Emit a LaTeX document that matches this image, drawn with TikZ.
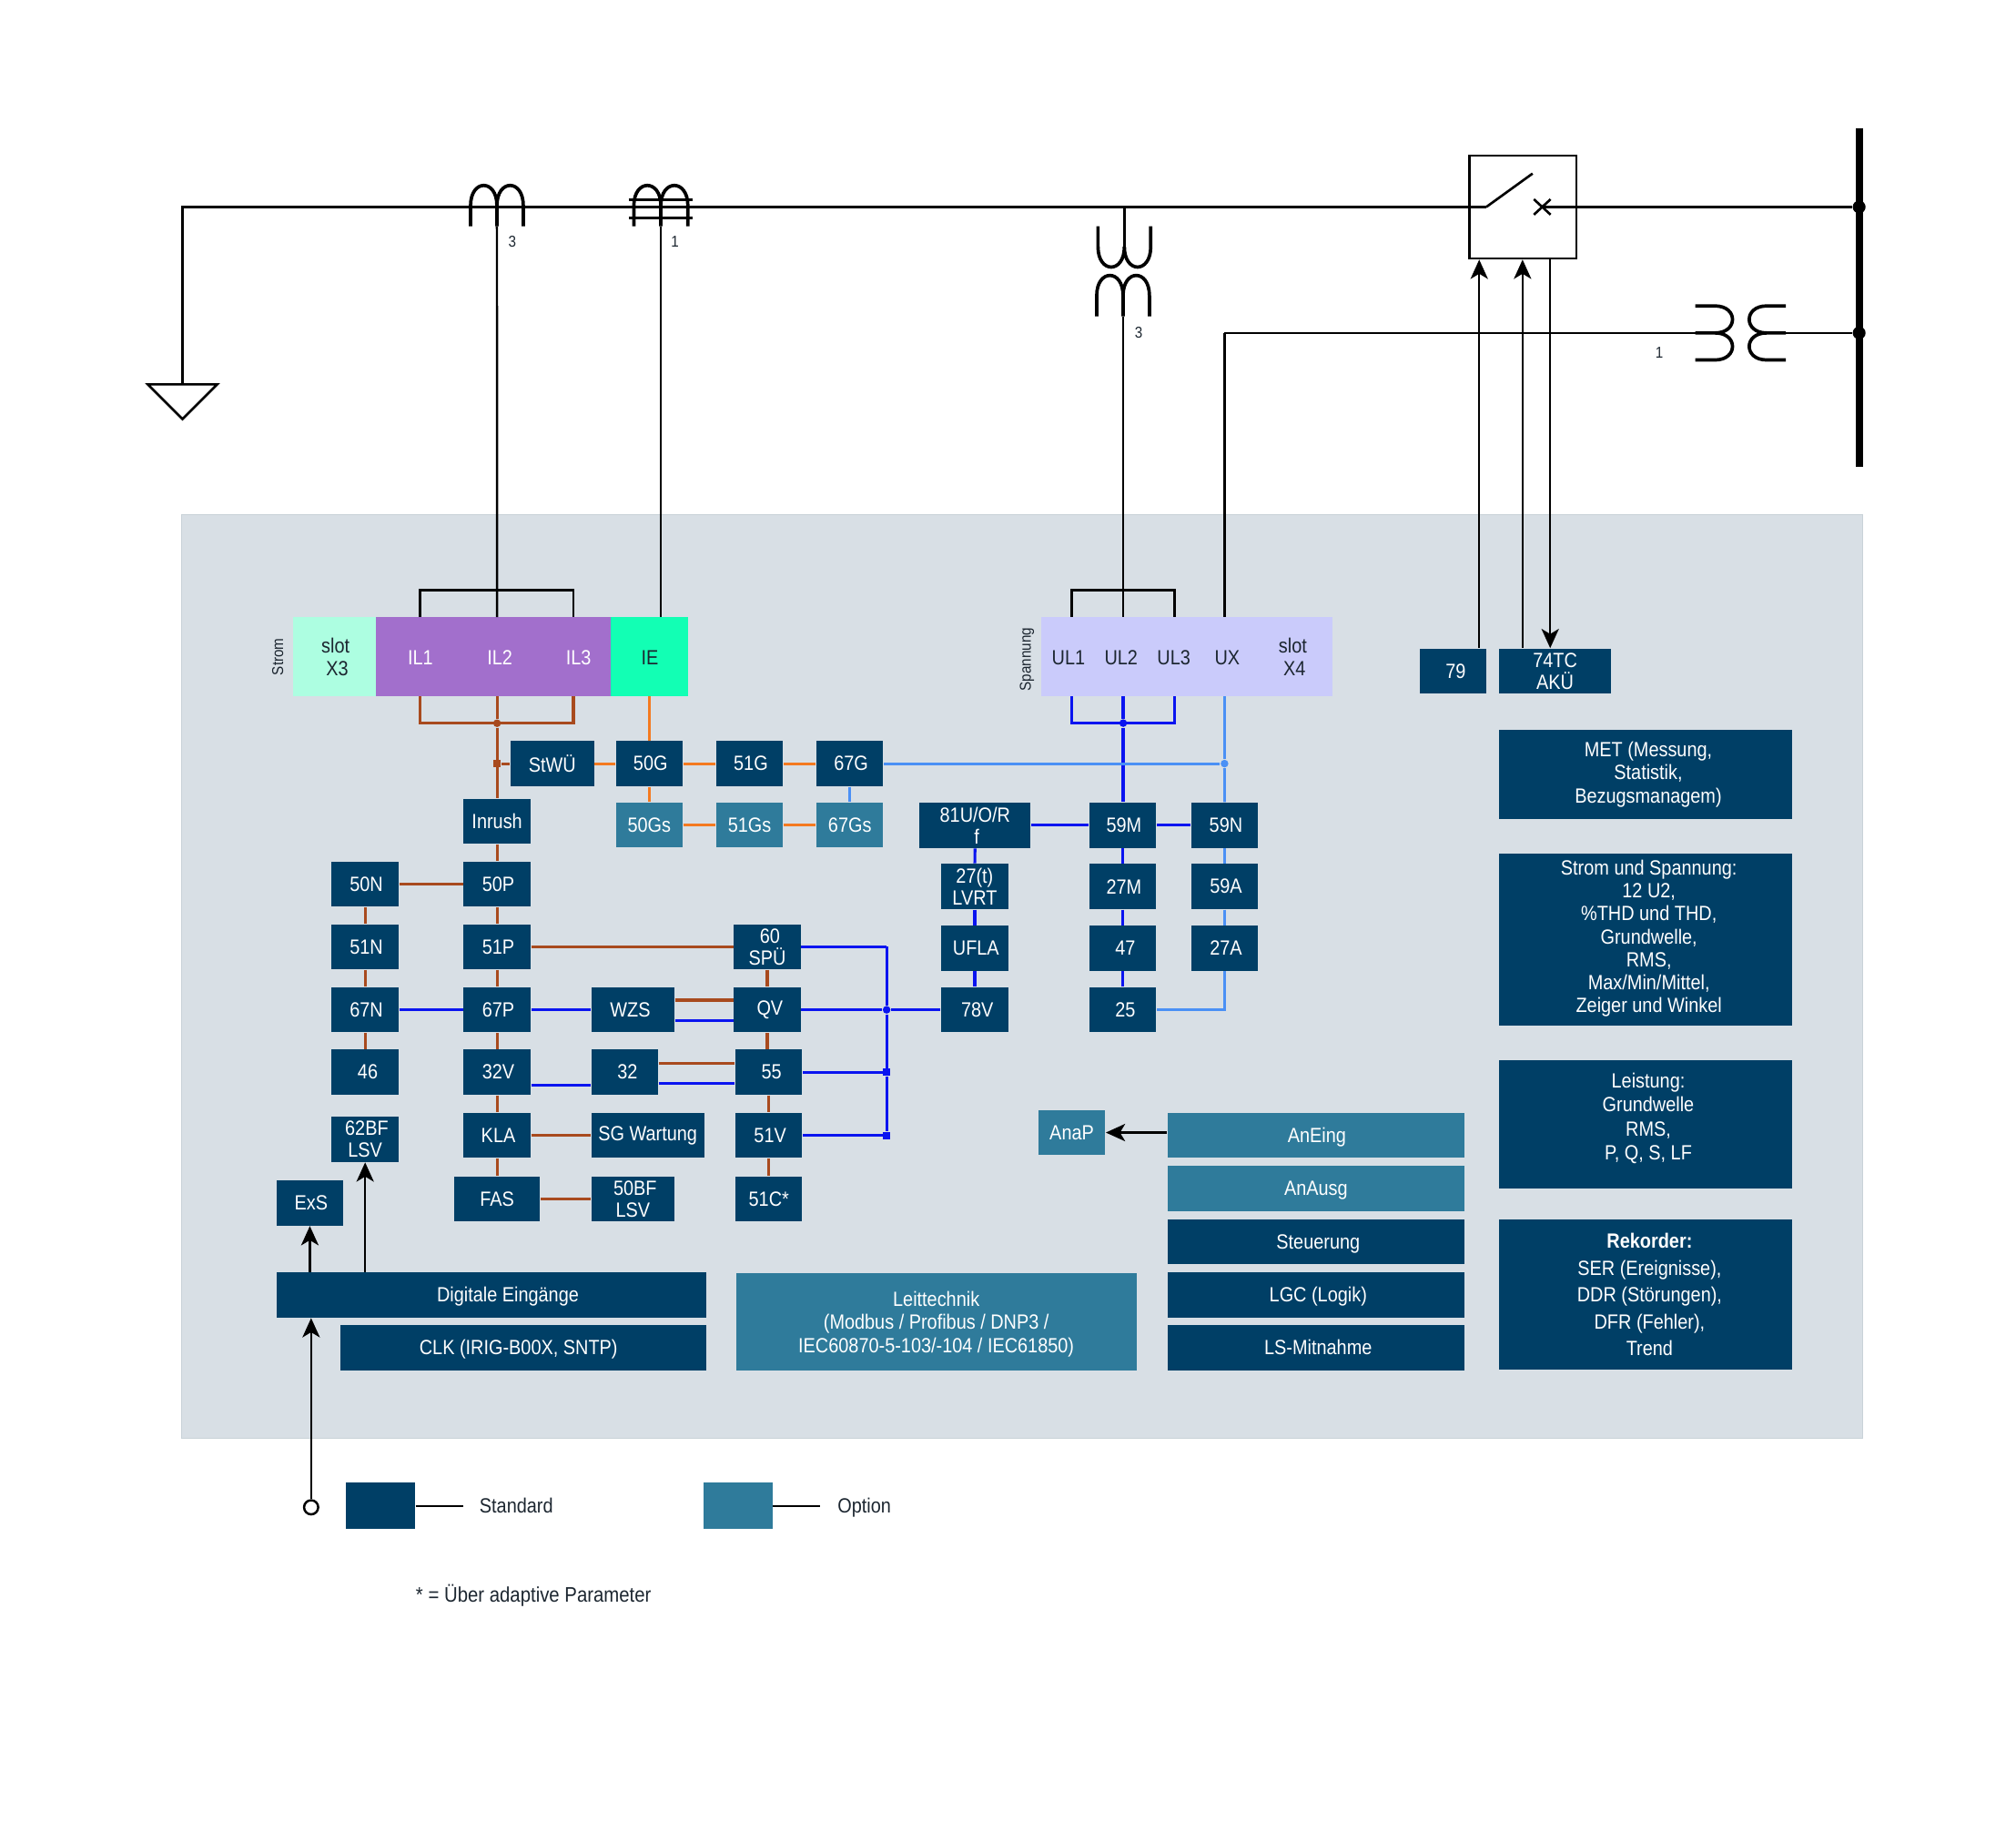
\documentclass[tikz,border=0pt]{standalone}
\usepackage{fontspec}
\setmainfont[FakeStretch=0.88]{Liberation Sans}
\usetikzlibrary{arrows.meta,positioning}
\definecolor{stdblue}{HTML}{003F66}
\definecolor{optblue}{HTML}{2F7B9B}
\definecolor{panelgray}{HTML}{D8DFE5}
\definecolor{paneledge}{HTML}{C9D2D8}
\definecolor{ilpurple}{HTML}{A26FCC}
\definecolor{iegreen}{HTML}{12FFB4}
\definecolor{slotgreen}{HTML}{ADFEE1}
\definecolor{slotlilac}{HTML}{CACBFB}
\definecolor{linebrown}{HTML}{A84A1E}
\definecolor{lineorange}{HTML}{F47A20}
\definecolor{lineblue}{HTML}{0A14F0}
\definecolor{linesky}{HTML}{4A90F5}
\definecolor{textdark}{HTML}{1C2630}
\tikzset{
  every node/.style={font=\fontsize{6.4}{6.8}\selectfont},
  stdbox/.style={fill=stdblue,text=white,inner sep=0pt,minimum width=20.8pt,minimum height=14pt,align=center},
  optbox/.style={stdbox,fill=optblue},
  bw/.style={minimum width=#1*0.4pt},
  bh/.style={minimum height=#1*0.4pt},
  oneline/.style={text height=5.4pt,text depth=1pt},
  slotbox/.style={inner sep=0pt,minimum height=24.6pt},
  plain/.style={inner sep=0pt,align=center},
  boxtext/.style={plain,text=white},
  tiny/.style={plain,font=\fontsize{4.9}{5.5}\selectfont,text=textdark},
  mainline/.style={line width=0.75pt,black},
  sigline/.style={line width=0.7pt,black,>={Stealth[length=6pt,width=5.4pt,inset=1.6pt]}},
  coil/.style={line width=1.05pt,black},
  brownline/.style={line width=0.9pt,linebrown},
  orangeline/.style={line width=0.9pt,lineorange},
  blueline/.style={line width=0.9pt,lineblue},
  skyline/.style={line width=0.8pt,linesky},
  jdot/.style={circle,fill,inner sep=0pt,minimum size=2.4pt},
  sdot/.style={rectangle,fill,inner sep=0pt,minimum size=2.2pt},
}
\begin{document}
\begin{tikzpicture}[x=0.4pt,y=-0.4pt]
  \useasboundingbox (0,0) rectangle (1568,1431.4);
  \fill[panelgray,draw=paneledge,line width=0.3pt] (141.5,400.5) rectangle (1449,1119);

  % free ends
  \foreach \nm/\x/\y in {gndtop/142/299,cbin/1156/161,cbout/1199.5/161,vttap/874.5/161,
    cttop/386.5/176,cetop/514/176,vtbot/873.6/246,vxstart/952.4/259,vxcoil/1318.5/259,vxout/1389/259,
    iltop/386.6/480,ieptop/514/480,ilA/326.8/480,ilC/446/480,ilAb/326.8/541.6,ilBb/386.6/541.6,ilCb/446/541.6,
    iebot/505/541.6,utop/873.6/480,uA/833.7/480,uC/913.5/480,uAb/833.7/541.6,uBb/873.6/541.6,uCb/913.5/541.6,
    uxtop/952.4/480,uxbot/952.4/541.6,bus60/689.6/736.5,legstdend/360/1171.4,legoptend/638/1171.4}
    \coordinate (\nm) at (\x,\y);

  % busbar and primary line
  \draw[line width=2.3pt] (1446,100)--(1446,363);
  \node[jdot,black,minimum size=4pt] (busA) at (1446,161) {};
  \node[jdot,black,minimum size=4pt] (busB) at (1446,259) {};
  \draw[mainline] (gndtop) |- (cbin);
  \draw[mainline] (cbout) -- (busA);
  \draw[mainline,line join=miter] (115,299)--(169,299)--(142,326)--cycle;

  % breaker
  \node[draw,line width=0.75pt,inner sep=0pt,minimum width=33.2pt,minimum height=32pt] (cb) at (1184.5,161) {};
  \draw[mainline] (cbin)--(1192,135);
  \draw[mainline] (1193,155)--(1206,167) (1193,167)--(1206,155);

  % current transformers
  \draw[coil] (366,176)--(366,160) .. controls (366,139) and (386.5,139) .. (386.5,160)--(386.5,176);
  \draw[coil] (386.5,160) .. controls (386.5,139) and (407,139) .. (407,160)--(407,176);
  \draw[coil] (493,176)--(493,160) .. controls (493,139) and (514,139) .. (514,160)--(514,176);
  \draw[coil] (514,160) .. controls (514,139) and (535,139) .. (535,160)--(535,176);
  \draw[mainline] (489,155.3)--(539,155.3) (489,169.4)--(539,169.4);
  \node[tiny] (ctn) at (398.5,188) {3};
  \node[tiny] (cen) at (525,188) {1};

  % voltage transformers
  \draw[coil] (854,176)--(854,192) .. controls (854,213) and (874.5,213) .. (874.5,192)
     .. controls (874.5,213) and (895,213) .. (895,192)--(895,176);
  \draw[sigline] (vttap)--(874.5,192);
  \draw[coil] (853,246)--(853,230) .. controls (853,209) and (873.5,209) .. (873.5,230)--(873.5,246);
  \draw[coil] (873.5,230) .. controls (873.5,209) and (894,209) .. (894,230)--(894,246);
  \node[tiny] (vtn) at (885.7,259) {3};
  \draw[coil] (1318.5,238)--(1334,238) .. controls (1352,238) and (1352,259) .. (1334,259)--(1318.5,259);
  \draw[coil] (1334,259) .. controls (1352,259) and (1352,280) .. (1334,280)--(1318.5,280);
  \draw[coil] (1389,238)--(1374,238) .. controls (1356,238) and (1356,259) .. (1374,259)--(1389,259);
  \draw[coil] (1374,259) .. controls (1356,259) and (1356,280) .. (1374,280)--(1389,280);
  \draw[mainline] (vxout) -- (busB);
  \node[tiny] (vxn) at (1290.6,274) {1};

  % analogue inputs
  \node[slotbox,fill=slotgreen,minimum width=25.6pt] (slotA) at (260.2,510.8) {};
  \node[slotbox,fill=ilpurple,minimum width=73.1pt] (ilblk) at (383.6,510.8) {};
  \node[slotbox,fill=iegreen,minimum width=24.2pt] (ieblk) at (505.2,510.8) {};
  \node[slotbox,fill=slotlilac,minimum width=90.6pt] (ublk) at (923.3,510.8) {};
  \node[plain,text=textdark] (slotAt) at (261,511) {slot\\[0.5pt]\,X3};
  \node[plain,text=textdark] (slotBt) at (1005.5,511) {slot\\[0.5pt]\,X4};
  \foreach \nm/\x in {IL1/327,IL2/388.8,IL3/450}
    \node[plain,text=white] (\nm) at (\x,511.6) {\nm};
  \node[plain,text=textdark] (IE) at (505.5,511.6) {IE};
  \foreach \nm/\x in {UL1/831,UL2/872,UL3/913,UX/954.5}
    \node[plain,text=textdark] (\nm) at (\x,511.6) {\nm};
  \node[tiny,rotate=90] (strom) at (216,511) {Strom};
  \node[tiny,rotate=90] (spann) at (798.7,513) {Spannung};

  % protection functions
  \foreach \nm/\x/\y in {50G/505/594,51G/583/594,67G/661/594,59M/873.2/642,59N/952.5/642,
    50N/284/687.8,50P/386.6/687.8,27M/873.2/689.6,59A/952.5/689.6,
    51N/284/736.5,51P/386.6/736.5,27A/952.5/737.6,UFLA/758.1/737.6,
    67N/284/785.5,67P/386.6/785.5,32V/386.6/834,
    KLA/386.6/883.3,51V/598/883.3,ExS/241/935.7}
    \node[stdbox] (\nm) at (\x,\y) {\hspace*{0.8pt}\nm};
  \foreach \nm/\x/\y in {47/873.2/737.6,QV/596.8/785.5,78V/758.1/785.5,25/873.2/785.5,
    46/284/834,32/486/834,55/598/834,79/1130.2/522.2}
    \node[stdbox] (\nm) at (\x,\y) {\hspace*{1.6pt}\nm};
  \foreach \nm/\x in {50Gs/505,51Gs/583,67Gs/661}
    \node[optbox] (\nm) at (\x,641.7) {\nm};
  \node[stdbox,bw=65] (StWU) at (429.5,594) {StWÜ};
  \node[stdbox] (Inrush) at (386.6,638.8) {Inrush};
  \node[stdbox,bw=86.4] (freq) at (758.4,642) {81U/O/R\\\,f};
  \node[stdbox] (lvrt) at (758.1,689.6) {27(t)\\LVRT};
  \node[stdbox] (spu) at (596.8,736.5) {\hspace*{1.6pt}60\\SPÜ};
  \node[stdbox,bw=64.5] (WZS) at (492.2,785.5) {\hspace*{-1.6pt}WZS};
  \node[stdbox] (lsv) at (284,886.2) {\hspace*{1pt}62BF\\LSV};
  \node[stdbox,bw=87.6] (wart) at (503.8,883.3) {SG Wartung};
  \node[stdbox,bw=66.7] (FAS) at (386.6,932.5) {FAS};
  \node[stdbox,bw=64.5] (bflsv) at (492.2,932.5) {\hspace*{1.4pt}50BF\\LSV};
  \node[stdbox] (cstar) at (598,932.5) {51C*};
  \node[stdbox,bw=87] (aku) at (1209.5,522.2) {74TC\\AKÜ};

  % lower blocks
  \node[stdbox,oneline,bw=334] (dig) at (382,1007.3) {\hspace*{10.4pt}Digitale Eingänge};
  \node[stdbox,oneline,bw=284.5] (clk) at (406.8,1048.3) {\hspace*{-2.8pt}CLK (IRIG-B00X, SNTP)};
  \node[optbox,bw=311.5,bh=76] (leit) at (728.2,1028) {};
  \node[boxtext,font=\fontsize{6.4}{7.2}\selectfont] (leittxt) at (728.2,1030)
    {Leittechnik\\(Modbus / Profibus / DNP3 /\\IEC60870-5-103/-104 / IEC61850)};
  \node[optbox] (AnaP) at (833.6,881) {AnaP};
  \node[optbox,oneline,bw=231] (AnEing) at (1023.5,883) {\hspace*{0.6pt}AnEing};
  \node[optbox,oneline,bw=231] (AnAusg) at (1023.5,924.5) {AnAusg};
  \foreach \nm/\y/\txt in {steu/965.8/Steuerung,lgc/1007.3/LGC (Logik),lsm/1048.3/LS-Mitnahme}
    \node[stdbox,oneline,bw=231] (\nm) at (1023.5,\y) {\hspace*{1.4pt}\txt};
  \node[stdbox,bw=228,bh=69] (met) at (1280,602.5) {};
  \node[boxtext,font=\fontsize{6.4}{7.1}\selectfont] (mettxt) at (1282,602.5)
    {MET (Messung,\\Statistik,\\Bezugsmanagem)};
  \node[stdbox,bw=228,bh=134.3] (stsp) at (1280,731) {};
  \node[boxtext,font=\fontsize{6.4}{7.1}\selectfont] (stsptxt) at (1282.5,730)
    {Strom und Spannung:\\12 U2,\\\%THD und THD,\\Grundwelle,\\RMS,\\Max/Min/Mittel,\\Zeiger und Winkel};
  \node[stdbox,bw=228,bh=99.5] (leist) at (1280,874.7) {};
  \node[boxtext,font=\fontsize{6.4}{7.4}\selectfont] (leisttxt) at (1282,870)
    {Leistung:\\Grundwelle\\RMS,\\P, Q, S, LF};
  \node[stdbox,bw=228,bh=116.8] (rek) at (1280,1007.2) {};
  \node[boxtext,font=\fontsize{6.4}{8.35}\selectfont] (rektxt) at (1283,1007.2)
    {\textbf{Rekorder:}\\SER (Ereignisse),\\DDR (Störungen),\\DFR (Fehler),\\Trend};

  % measuring lines
  \draw[sigline] (cttop) -- (iltop);
  \draw[sigline] (cetop) -- (ieptop);
  \draw[sigline] (ilA) |- (ilC |- 0,459) -- (ilC);
  \draw[sigline] (vtbot) -- (utop);
  \draw[sigline] (uA) |- (uC |- 0,459) -- (uC);
  \draw[sigline] (vxstart) -- (uxtop);
  \draw[sigline] (vxstart) -- (vxcoil);

  % breaker commands
  \draw[sigline,->] (79.north -| 1150.5,0) -- (cb.south -| 1150.5,0);
  \draw[sigline,->] (aku.north -| 1184.2,0) -- (cb.south -| 1184.2,0);
  \draw[sigline,->] (cb.south -| 1205.7,0) -- (aku.north -| 1205.7,0);

  % current paths
  \node[jdot,linebrown] (jil) at (386.6,562.6) {};
  \node[sdot,linebrown] (jst) at (386.6,594) {};
  \draw[brownline] (ilAb) |- (ilCb |- jil) -- (ilCb);
  \draw[brownline] (ilBb) -- (jil);
  \draw[brownline] (jil) -- (Inrush);
  \draw[brownline] (jst) -- (StWU);
  \foreach \a/\b in {Inrush/50P,50P/51P,51P/67P,67P/32V,32V/KLA,KLA/FAS,50N/51N,51N/67N,67N/46,
    50N/50P,51P/spu,spu/QV,55/51V,51V/cstar,KLA/wart,FAS/bflsv}
    \draw[brownline] (\a) -- (\b);
  \draw[brownline] (QV.south) -- (QV.south |- 55.north);
  \draw[brownline] ([yshift=3pt]WZS.east) -- ([yshift=3pt]WZS.east -| QV.west);
  \draw[brownline] ([yshift=2.7pt]32.east) -- ([yshift=2.7pt]32.east -| 55.west);
  \draw[orangeline] (iebot) -- (50G);
  \foreach \a/\b in {StWU/50G,50G/51G,51G/67G,50G/50Gs,50Gs/51Gs,51Gs/67Gs}
    \draw[orangeline] (\a) -- (\b);

  % voltage paths
  \node[jdot,lineblue] (jul) at (873.6,562.5) {};
  \node[jdot,lineblue] (jqv) at (689.6,785.5) {};
  \node[sdot,lineblue] (j55) at (689.6,834) {};
  \node[sdot,lineblue] (j51) at (689.6,883.3) {};
  \draw[blueline] (uAb) |- (uCb |- jul) -- (uCb);
  \draw[blueline] (uBb) -- (jul);
  \draw[blueline] (jul) -- (jul |- 59M.north);
  \foreach \a/\b in {freq/59M,59M/59N,59M/27M,27M/47,47/25,freq/lvrt,lvrt/UFLA,UFLA/78V,
    67N/67P,67P/WZS,QV/jqv,jqv/78V,55/j55,51V/j51,spu/bus60,bus60/jqv,jqv/j55,j55/j51}
    \draw[blueline] (\a) -- (\b);
  \draw[blueline] ([yshift=-3.4pt]WZS.east) -- ([yshift=-3.4pt]WZS.east -| QV.west);
  \draw[blueline] ([yshift=-3.4pt]32.east) -- ([yshift=-3.4pt]32.east -| 55.west);
  \draw[blueline] ([yshift=-4pt]32V.east) -- ([yshift=-4pt]32V.east -| 32.west);
  \node[jdot,linesky] (jux) at (952.4,594) {};
  \draw[skyline] (uxbot) -- (jux);
  \draw[skyline] (jux) -- (59N);
  \draw[skyline] (67G) -- (jux);
  \draw[skyline] (67G) -- (67Gs);
  \draw[skyline] (59N) -- (59A);
  \draw[skyline] (59A) -- (27A);
  \draw[skyline] (27A.south) |- (25.east);

  % binary inputs
  \node[circle,draw,line width=0.7pt,fill=white,inner sep=0pt,minimum size=4.4pt] (inp) at (242,1172.5) {};
  \draw[sigline,->] (inp) -- (inp |- dig.south);
  \draw[sigline,->] (ExS.south |- dig.north) -- (ExS.south);
  \draw[sigline,->] (lsv.south |- dig.north) -- (lsv.south);
  \draw[sigline,->] (AnEing.west |- AnaP.east) -- (AnaP.east);

  % legend
  \node[stdbox,bw=53.4,bh=35.8] (legstd) at (296,1171.4) {};
  \node[optbox,bw=53.4,bh=35.8] (legopt) at (574,1171.4) {};
  \draw[sigline] (legstd) -- (legstdend);
  \draw[sigline] (legopt) -- (legoptend);
  \node[plain,oneline,anchor=west,text=textdark] (legstdt) at (372.5,1171.5) {Standard};
  \node[plain,oneline,anchor=west,text=textdark] (legoptt) at (651,1171.5) {Option};
  \node[plain,oneline,anchor=west,text=textdark,font=\fontsize{6.55}{7}\selectfont] (foot) at (323,1241) {* = Über adaptive Parameter};
\end{tikzpicture}
\end{document}
